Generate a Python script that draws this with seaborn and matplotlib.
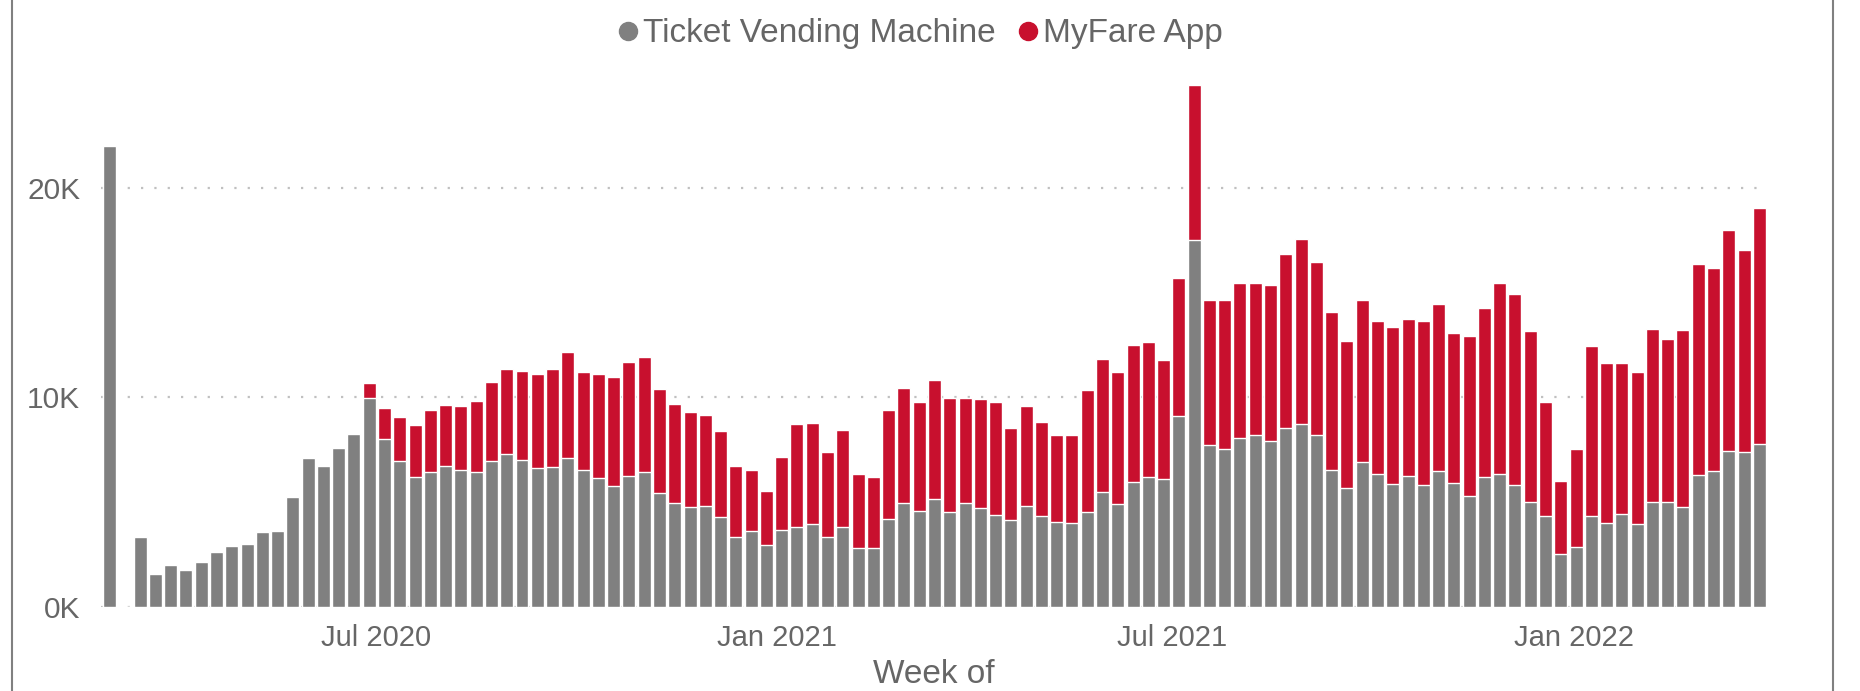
import matplotlib
matplotlib.use("Agg")
import matplotlib.pyplot as plt
from matplotlib.lines import Line2D
from matplotlib.patches import Rectangle
import pandas as pd
import seaborn as sns

# weekly ticket sales, week starting Sunday 2020-03-01
first_week = "2020-03-01"
tvm = [21960, 0, 3330, 1560, 1990, 1750, 2130, 2610, 2900, 2990,
       3570, 3610, 5240, 7100, 6720, 7580, 8250, 9970, 8010, 6960,
       6190, 6430, 6720, 6530, 6430, 6960, 7290, 7010, 6620, 6670,
       7100, 6530, 6150, 5760, 6240, 6430, 5430, 4950, 4760, 4810,
       4280, 3330, 3610, 2950, 3660, 3810, 3950, 3330, 3810, 2800,
       2800, 4190, 4950, 4570, 5140, 4520, 4950, 4710, 4380, 4140,
       4800, 4330, 4040, 4000, 4510, 5470, 4910, 5950, 6180, 6100,
       9100, 17500, 7720, 7530, 8060, 8190, 7900, 8530, 8720, 8190,
       6520, 5670, 6900, 6340, 5860, 6240, 5810, 6470, 5910, 5280,
       6180, 6340, 5810, 5000, 4330, 2520, 2850, 4330, 4000, 4430,
       3950, 5000, 5000, 4760, 6290, 6480, 7440, 7390, 7770]
app = [0, 0, 0, 0, 0, 0, 0, 0, 0, 0,
       0, 0, 0, 0, 0, 0, 0, 710, 1480, 2100,
       2490, 2960, 2910, 3060, 3390, 3770, 4060, 4250, 4490, 4680,
       5070, 4680, 4960, 5210, 5450, 5500, 4970, 4730, 4540, 4350,
       4110, 3390, 2920, 2580, 3490, 4920, 4820, 4060, 4630, 3540,
       3390, 5200, 5500, 5210, 5690, 5450, 5020, 5210, 5400, 4400,
       4770, 4480, 4150, 4190, 5830, 6350, 6280, 6540, 6440, 5670,
       6590, 7390, 6910, 7100, 7390, 7260, 7450, 8300, 8830, 8250,
       7530, 7000, 7730, 7290, 7480, 7490, 7820, 7980, 7160, 7640,
       8080, 9120, 9130, 8170, 5450, 3480, 4680, 8120, 7640, 7210,
       7260, 8260, 7790, 8460, 10080, 9700, 10550, 9650, 11230]

series_names = ["Ticket Vending Machine", "MyFare App"]
series_colors = ["#808080", "#C8102E"]
tick_dates = ["2020-07-01", "2021-01-01", "2021-07-01", "2022-01-01"]
tick_labels = ["Jul 2020", "Jan 2021", "Jul 2021", "Jan 2022"]
y_ticks = [0, 10000, 20000]
y_labels = ["0K", "10K", "20K"]

text_color = "#666666"

sns.set_theme(style="white")
plt.rcParams["font.family"] = ["Liberation Sans", "DejaVu Sans"]

weeks = pd.date_range(first_week, periods=len(tvm), freq="7D")
df = pd.DataFrame({"week": weeks.strftime("%Y-%m-%d"), "tvm": tvm, "app": app})
df["total"] = df["tvm"] + df["app"]

fig = plt.figure(figsize=(18.6, 6.91), dpi=100)
ax = fig.add_axes([101 / 1860, 0.1216, (1767 - 101) / 1860, 0.777])

# stacked bars: total (red) underneath, TVM (gray) on top of it
sns.barplot(data=df, x="week", y="total", color=series_colors[1], width=0.85,
            saturation=1, ax=ax)
sns.barplot(data=df, x="week", y="tvm", color=series_colors[0], width=0.85,
            saturation=1, ax=ax)

ax.set_xlim(-0.56, len(tvm) - 0.5)
ax.set_ylim(0, 25600)
ax.set_yticks(y_ticks)
ax.set_yticklabels(y_labels)

start = pd.Timestamp(first_week)
tick_pos = [(pd.Timestamp(d) - start).days / 7 for d in tick_dates]
ax.set_xticks(tick_pos)
ax.set_xticklabels(tick_labels)

ax.yaxis.grid(True, linestyle=(0, (1, 5)), color="#c0c0c0", linewidth=1.6)
ax.xaxis.grid(False)
ax.set_axisbelow(True)
for s in ax.spines.values():
    s.set_visible(False)
ax.tick_params(axis="y", length=0, pad=15, labelsize=21.5, labelcolor=text_color)
ax.tick_params(axis="x", length=0, pad=12, labelsize=21, labelcolor=text_color)
ax.set_ylabel("")
ax.set_xlabel("Week of", fontsize=24, color=text_color, labelpad=5)

handles = [Line2D([], [], marker="o", linestyle="", markersize=13,
                  markerfacecolor=c, markeredgecolor=c) for c in series_colors]
fig.legend(handles, series_names, loc="center", bbox_to_anchor=(0.4935, 0.951),
           ncol=2, frameon=False, fontsize=24, labelcolor=text_color,
           handletextpad=0.0, columnspacing=0.5, handlelength=0.9)

# outer frame of the visual
fig.add_artist(Rectangle((12 / 1860, -0.05), (1833 - 12) / 1860, 1.2,
                         transform=fig.transFigure, fill=False,
                         edgecolor="#808080", linewidth=1.5))

fig.savefig("out.png", dpi=100)
